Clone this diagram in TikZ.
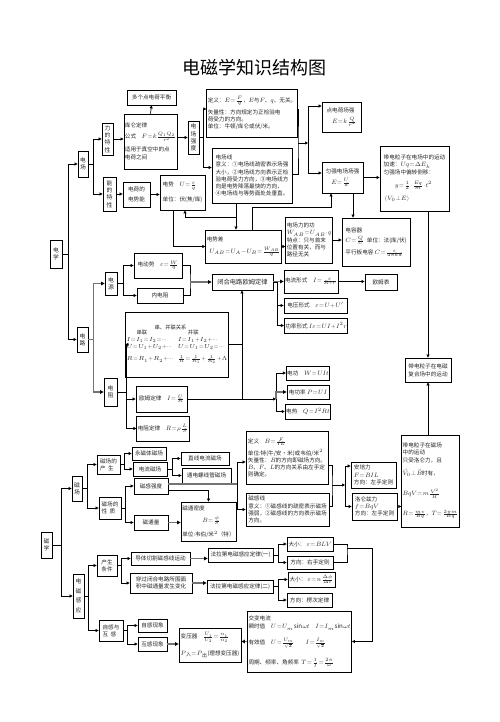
\documentclass[tikz,border=0pt]{standalone}
\usepackage{fontspec}
\usepackage{unicode-math}
\setmainfont{Noto Sans CJK SC}
\setmathfont{Latin Modern Math}
\DeclareMathSizes{5.6}{6.2}{4.9}{4}
\DeclareMathSizes{5.3}{5.9}{4.7}{3.8}
\usetikzlibrary{arrows.meta,calc}
\newcommand\fr[2]{{\frac{#1}{#2}}}
\newcommand\B[7][]{\node[box,minimum width={(#5-#3)*1pt},minimum height={(#6-#4)*1pt},#1] (#2) at ({(#3+#5)/2},{(#4+#6)/2}) {#7};}
\thickmuskip=1.5mu plus 1mu
\medmuskip=1mu plus 1mu
\thinmuskip=1mu
\tikzset{
 box/.style={draw, line width=0.8pt, inner sep=1pt, align=left, font=\fontsize{5.6}{7.2}\selectfont, text=black!85},
 vbox/.style={box, align=center, font=\fontsize{5.8}{7.2}\selectfont},
 ln/.style={line width=0.7pt},
 arr/.style={ln, -{Triangle[length=3pt,width=3pt]}},
 garr/.style={line width=1.3pt, draw=black!55, -{Triangle[length=3.5pt,width=3.5pt,color=black]}},
 gln/.style={line width=1.3pt, draw=black!55},
}
\begin{document}
\begin{tikzpicture}[x=1pt,y=-1pt]
\useasboundingbox (0,0) rectangle (500,722);
\node[font=\fontsize{18}{18}\selectfont] (title) at (254,68) {电磁学知识结构图};

% ---------------- electric field
\B[vbox]{dianxue}{50}{240}{62}{268}{电\\学}
\B[vbox]{dianchang}{78}{151}{88}{177}{电\\场}
\B[vbox]{lide}{102}{123}{113}{155}{力\\的\\特\\性}
\B[vbox]{nengde}{103}{177}{116}{211}{能\\的\\特\\性}
\B{duoge}{127}{90}{176}{105}{多个点电荷平衡}
\B{kulun}{124}{114}{177}{169}{库仑定律\\[4pt]公式\quad $F=k\fr{Q_1Q_2}{r^2}$\\[4pt]适用于真空中的点\\[1pt]电荷之间}
\B[vbox]{cqqd}{188}{121}{199}{154}{电\\场\\强\\度}
\B{dingyi}{212}{89}{292}{137}{定义：$E=\fr{F}{q}$，$E$与$F$、$q$、无关。\\[3pt]矢量性：方向规定为正检验电\\荷受力的方向。\\单位：牛顿/库仑或伏/米。}
\B{dcx}{212}{148}{292}{203}{电场线\\意义：①电场线疏密表示场强\\大小，②电场线方向表示正检\\验电荷受力方向，③电场线方\\向是电势降落最快的方向，\\④电场线与等势面处处垂直。}
\B{ddh}{322}{102}{361}{132}{点电荷场强\\[4pt]\quad$E=k\,\fr{Q}{r^2}$}
\B{yq}{322}{162}{363}{193}{匀强电场场强\\[4pt]\quad$E=\fr{U}{d}$}
\B{ldz}{380}{146}{449}{211}{带电粒子在电场中的运动\\加速：$Uq=\Delta E_k$\\匀强场中偏转侧移：\\[6pt]\qquad$y=\fr{1}{2}\cdot\fr{Eq}{m}\cdot t^2$\\[6pt]\ $(V_0\perp E)$}
\B{dhdsn}{123}{182}{150}{207}{电荷的\\[3pt]电势能}
\B{ds}{160}{175}{205}{210}{电势\quad $U=\fr{\varepsilon}{q}$\\[6pt]单位：伏(焦/库)}
\B{dsc}{210}{230}{277}{263}{电势差\\[5pt]\ \ $U_{AB}=U_A-U_B=\fr{W_{AB}}{q}$}
\B{dclg}{288}{217}{330}{263}{电场力的功\\$W_{AB}=U_{AB}\cdot q$\\特点：只与首末\\位置有关，而与\\路径无关}
\B{drq}{342}{218}{410}{266}{电容器\\[3pt]$C=\fr{Q}{U}$\ \ 单位：法(库/伏)\\[5pt]平行板电容 $C=\fr{\varepsilon}{4\pi kd}$}

% ---------------- circuits
\B[vbox]{dianlu}{77}{327}{88}{352}{电\\路}
\B[vbox]{dy}{105}{272}{117}{295}{电\\源}
\B{ddsh}{134}{253}{182}{278}{电动势\quad$\varepsilon=\fr{W}{q}$}
\B{nzd}{137}{288}{183}{303}{\hspace*{10pt}内电阻\hspace*{10pt}}
\B[font=\fontsize{6.3}{7.2}\selectfont]{bh}{212}{274}{273}{290}{闭合电路欧姆定律}
\B{dlxs}{285}{270}{337}{293}{电流形式\quad$I=\fr{\varepsilon}{R+r}$}
\B{dyxs}{284}{298}{347}{313}{电压形式\quad$\varepsilon=U+U'$}
\B{glxs}{285}{318}{347}{333}{功率形式 $I\varepsilon=UI+I^2r$}
\B{omb}{365}{274}{397}{290}{欧姆表}
\B[vbox]{dz}{104}{378}{117}{406}{电\\阻}
\B[font=\fontsize{5.3}{6.8}\selectfont]{cbl}{137}{312}{217}{377}{\hspace*{28pt}串、并联关系\\[-1pt]\begin{tabular}{@{}l@{\hspace{5pt}}l@{}}\hspace*{10pt}串联&\hspace*{10pt}并联\\$I=I_1=I_2=\cdots$&$I=I_1+I_2+\cdots$\\$U=U_1+U_2+\cdots$&$U=U_1=U_2=\cdots$\\[5pt]$R=R_1+R_2+\cdots$&$\fr{1}{R}=\fr{1}{R_1}+\fr{1}{R_2}+\Lambda$\end{tabular}}
\B{omdl}{136}{386}{187}{412}{欧姆定律\quad$I=\fr{U}{R}$}
\B{dzdl}{137}{416}{189}{441}{电阻定律\quad$R=\rho\,\fr{L}{S}$}
\B{dg}{287}{366}{329}{380}{电功\quad $W=UIt$}
\B{dgl}{287}{385}{329}{399}{电功率\ $P=UI$}
\B{dr}{287}{404}{329}{419}{电热\quad $Q=I^2Rt$}
\B{fhc}{405}{358}{451}{382}{带电粒子在电磁\\[1pt]复合场中的运动}
\B{cyd}{408}{435}{453}{527}{带电粒子在磁场\\中的运动\\只受洛仑力，且\\[6pt]$\vec V_0\perp\vec B$时有，\\[11pt]$BqV=m\fr{V^2}{R}$\\[11pt]$R=\fr{mv}{Bq}$，$T=\fr{2\pi m}{Bq}$}

% ---------------- magnetism
\B[vbox]{cx}{41}{532}{52}{558}{磁\\学}
\B[vbox]{cc}{72}{476}{82}{501}{磁\\场}
\B{ccsc}{97}{455}{120}{474}{磁场的\\产\ \ 生}
\B{ccxz}{99}{497}{121}{519}{磁场的\\性\ \ 质}
\B{ycc}{132}{447}{166}{460}{永磁体磁场}
\B{dlcc}{133}{462}{167}{476}{电流磁场}
\B{zxdl}{181}{452}{229}{465}{直线电流磁场}
\B{tdlx}{182}{468}{231}{483}{通电螺线管磁场}
\B{cgqd}{134}{478}{168}{494}{磁感强度}
\B{ctl}{134}{515}{168}{530}{磁通量}
\B{ctmd}{181}{502}{236}{541}{磁通密度\\[5pt]\hspace*{20pt}$B=\fr{\phi}{S}$\\[5pt]单位:韦伯/米$^2$（特）}
\B{cdy}{246}{431}{328}{484}{定义\quad $B=\fr{F}{IL}$\\[3pt]单位:特(牛/安·米)或韦伯/米$^2$\\矢量性：$B$的方向即磁场方向。\\$B$、$F$、$L$的方向关系由左手定\\则确定。}
\B{cgx}{246}{493}{329}{526}{磁感线\\意义：①磁感线的疏密表示磁场\\强弱，②磁感线的方向表示磁场\\方向。}
\B{apl}{351}{462}{396}{488}{安培力\\$F=BIL$\\方向：左手定则}
\B{llz}{352}{493}{397}{520}{洛仑兹力\\$f=BqV$\\方向：左手定则}

% ---------------- induction
\B[vbox,font=\fontsize{5.8}{9.5}\selectfont]{dcgy}{73}{574}{84}{618}{电\\磁\\感\\应}
\B{cstj}{97}{555}{117}{576}{产生\\条件}
\B{dtqg}{131}{552}{190}{565}{导体切割磁感线运动}
\B{cgbh}{130}{573}{192}{593}{穿过闭合电路所围面\\积中磁通量发生变化}
\B{fld1}{208}{548}{273}{562}{法拉第电磁感应定律(一)}
\B{fld2}{207}{580}{273}{593}{法拉第电磁感应定律(二)}
\B{dx1}{287}{537}{333}{551}{大小：\ $\varepsilon=BLV$}
\B{fx1}{287}{556}{333}{569}{方向：右手定则}
\B{dx2}{288}{572}{335}{587}{大小：\ $\varepsilon=n\,\fr{\Delta\phi}{\Delta t}$}
\B{fx2}{287}{593}{332}{607}{方向：楞次定律}
\B{jbdl}{251}{611}{348}{672}{交变电流\\[1pt]瞬时值\quad $U=U_m\sin\omega t$\quad $I=I_m\sin\omega t$\\[7pt]有效值\quad $U=\fr{U_m}{\sqrt2}$\qquad $I=\fr{I_m}{\sqrt2}$\\[9pt]周期、频率、角频率\ \ $T=\fr{1}{f}=\fr{2\pi}{\omega}$}
\B{byq}{179}{628}{241}{662}{变压器\quad $\fr{U_1}{U_2}=\fr{n_1}{n_2}$\\[7pt]$P$\textsubscript{入}$=P$\textsubscript{出}(理想变压器)}
\B{zghg}{99}{620}{123}{641}{自感与\\互\ \ 感}
\B{zgxx}{138}{619}{167}{632}{自感现象}
\B{hgxx}{138}{637}{167}{651}{互感现象}

% ---------------- junction coordinates
\coordinate (j1) at (298,143);
\coordinate (j2) at (308,143);
\coordinate (j3) at (236,217);
\coordinate (j4) at (190,282);
\coordinate (j5) at (242,399);
\coordinate (j6) at (276,399);
\coordinate (j7) at (237,484);
\coordinate (j8) at (332,485);
\coordinate (j9) at (345,485);
\coordinate (j10) at (347,548);

% ---------------- connectors: electric field
\draw[arr] (dianxue.east) -- ++(6,0) |- (dianchang.west);
\draw[arr] (dianxue.east) -- ++(6,0) |- (dianlu.west);
\draw[arr] (dianchang.east) -- ++(5,0) |- (lide.west);
\draw[arr] (dianchang.east) -- ++(5,0) |- (nengde.west);
\draw[arr] (lide.east) -- (lide.east -| kulun.west);
\draw[arr] (kulun.north) -- (duoge.south);
\draw[arr] (kulun.east |- cqqd.west) -- (cqqd.west);
\draw[arr] (cqqd.east) -- ++(4,0) |- ([yshift=4pt]dingyi.west);
\draw[arr] (cqqd.east) -- ++(4,0) |- ([yshift=8pt]dcx.west);
\draw[ln] ([yshift=4pt]dingyi.east) -| (j1) |- ([yshift=1.5pt]dcx.east);
\draw[arr] (j1) -- (j2);
\draw[arr] (j2) |- ([yshift=11pt]ddh.west);
\draw[arr] (j2) |- ([yshift=4.5pt]yq.west);
\draw[arr] (yq.east) -- (yq.east -| ldz.west);
\draw[arr] (fhc.north |- ldz.south) -- (fhc.north);
\draw[arr] (fhc.south |- cyd.north) -- (fhc.south);
\draw[arr] ([xshift=-16pt]dcx.south) -- ([xshift=-16pt]dcx.south |- dsc.north);
\draw[arr] (j3) -| ([xshift=2.5pt]ds.south);
\draw[arr] ([xshift=-9.5pt]ds.south) |- (dsc.west);
\draw[arr] ([xshift=8.5pt]dsc.north) -- ++(0,-22) -| ([xshift=-11.5pt]yq.south);
\draw[arr] (dsc.east) -- (dsc.east -| dclg.west);
\draw[arr] (dclg.east) -- (dclg.east -| drq.west);
\draw[arr] ([xshift=10.5pt]yq.south) -- ([xshift=10.5pt]yq.south |- drq.north);
\draw[arr] (nengde.east) -- (nengde.east -| dhdsn.west);
\draw[arr] (dhdsn.east) -- (dhdsn.east -| ds.west);

% ---------------- connectors: circuits
\draw[garr] (dianlu.east) -- ++(5,0) |- (dy.west);
\draw[garr] (dianlu.east) -- ++(5,0) |- (dz.west);
\draw[arr] (dy.east) -- ++(6,0) |- (ddsh.west);
\draw[arr] (dy.east) -- ++(6,0) |- (nzd.west);
\draw[ln] (ddsh.east) -| (j4) |- (nzd.east);
\draw[garr] (j4) -- (j4 -| bh.west);
\draw[garr] (bh.east) -- ++(4,0) |- (dlxs.west);
\draw[arr] (bh.east) -- ++(4,0) |- (dyxs.west);
\draw[arr] (bh.east) -- ++(4,0) |- (glxs.west);
\draw[arr] (dlxs.east) -- (dlxs.east -| omb.west);
\draw[arr] (dz.east) -- ++(9,0) |- (cbl.west);
\draw[arr] (dz.east) -- ++(9,0) |- (omdl.west);
\draw[arr] (dz.east) -- ++(9,0) |- (dzdl.west);
\draw[ln] (omdl.east) -- (j5);
\draw[ln] (cbl.east) -- (cbl.east -| j5);
\draw[arr] (j5) -- (j5 |- bh.south);
\draw[arr] (j5) -- (j6);
\draw[arr] (j6) |- (dg.west);
\draw[garr] (j6) |- (dgl.west);
\draw[arr] (j6) |- (dr.west);

% ---------------- connectors: magnetism
\draw[arr] (cx.east) -- ++(9,0) |- (cc.west);
\draw[arr] (cx.east) -- ++(9,0) |- (dcgy.west);
\draw[arr] (cc.east) -- ++(5,0) |- (ccsc.west);
\draw[arr] (cc.east) -- ++(5,0) |- (ccxz.west);
\draw[arr] (ccsc.east) -- ++(4,0) |- (ycc.west);
\draw[arr] (ccsc.east) -- ++(4,0) |- (dlcc.west);
\draw[arr] (dlcc.east) -- ++(5,0) |- (zxdl.west);
\draw[arr] (dlcc.east) -- ++(5,0) |- (tdlx.west);
\draw[arr] (ccxz.east) -- ++(4,0) |- (cgqd.west);
\draw[arr] (ccxz.east) -- ++(4,0) |- (ctl.west);
\draw[arr] ([yshift=-4pt]cgqd.east) -| (ctmd.north);
\draw[gln] ([yshift=2pt]cgqd.east) -- (j7);
\draw[arr] (j7) |- ([yshift=-4.5pt]cdy.west);
\draw[arr] (j7) |- (cgx.west);
\draw[garr] (ctl.east) -- (ctl.east -| ctmd.west);
\draw[ln] ([yshift=-8pt]cdy.east) -| (j8) |- ([yshift=3.5pt]cgx.east);
\draw[arr] (j8) -- (j9);
\draw[arr] (j9) |- ([yshift=9pt]apl.west);
\draw[arr] (j9) |- (llz.west);
\draw[arr] (llz.east) -- (llz.east -| cyd.west);

% ---------------- connectors: induction
\draw[arr] (dcgy.east) -- ++(4,0) |- (cstj.west);
\draw[arr] (dcgy.east) -- ++(4,0) |- (zghg.west);
\draw[arr] (cstj.east) -- ++(4,0) |- (dtqg.west);
\draw[arr] (cstj.east) -- ++(4,0) |- (cgbh.west);
\draw[garr] (dtqg.east) -- (dtqg.east -| fld1.west);
\draw[garr] (cgbh.east) -- (cgbh.east -| fld2.west);
\draw[arr] (fld1.east) -- ++(5,0) |- (dx1.west);
\draw[arr] (fld1.east) -- ++(5,0) |- (fx1.west);
\draw[arr] (fld2.east) -- ++(5,0) |- (dx2.west);
\draw[arr] (fld2.east) -- ++(5,0) |- (fx2.west);
\draw[ln] (dx1.east) -| (j10) |- (fx1.east);
\draw[arr] (j10) -- ++(25,0) |- (jbdl.east);
\draw[garr] (jbdl.west) -- (jbdl.west -| byq.east);
\draw[arr] (zghg.east) -- ++(4,0) |- (zgxx.west);
\draw[arr] (zghg.east) -- ++(4,0) |- (hgxx.west);
\draw[garr] (hgxx.east) -- (hgxx.east -| byq.west);
\end{tikzpicture}
\end{document}
